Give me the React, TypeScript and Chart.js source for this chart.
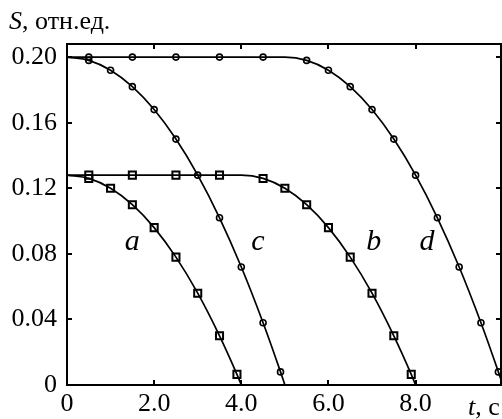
import React, { useEffect, useRef } from "react";
import { Chart, registerables } from "chart.js";

Chart.register(...registerables);

// ---- data (t in seconds, S in relative units) ----
const tA = [0, 0.5, 1.0, 1.5, 2.0, 2.5, 3.0, 3.5, 3.9, 4.0];
const sA = [0.128, 0.126, 0.120, 0.110, 0.096, 0.078, 0.056, 0.030, 0.0065, 0];
const aUnmarked = [0, 4.0];

const tB = [0, 0.5, 1.5, 2.5, 3.5, 4.0, 4.5, 5.0, 5.5, 6.0, 6.5, 7.0, 7.5, 7.9, 8.0];
const sB = [0.128, 0.128, 0.128, 0.128, 0.128, 0.128, 0.126, 0.120, 0.110, 0.096, 0.078, 0.056, 0.030, 0.0065, 0];
const bUnmarked = [0, 4.0, 8.0];

const tC = [0, 0.5, 1.0, 1.5, 2.0, 2.5, 3.0, 3.5, 4.0, 4.5, 4.9, 5.0];
const sC = [0.2, 0.198, 0.192, 0.182, 0.168, 0.150, 0.128, 0.102, 0.072, 0.038, 0.008, 0];
const cUnmarked = [0, 5.0];

const tD = [0, 0.5, 1.5, 2.5, 3.5, 4.5, 5.0, 5.5, 6.0, 6.5, 7.0, 7.5, 8.0, 8.5, 9.0, 9.5, 9.9, 10.0];
const sD = [0.2, 0.2, 0.2, 0.2, 0.2, 0.2, 0.2, 0.198, 0.192, 0.182, 0.168, 0.150, 0.128, 0.102, 0.072, 0.038, 0.008, 0];
const dUnmarked = [0, 5.0, 10.0];

const xTicks = [0, 2, 4, 6, 8];
const yTicks = [0, 0.04, 0.08, 0.12, 0.16, 0.2];

const curveNames = ["a", "c", "b", "d"];
const curveLabelT = [1.5, 4.38, 7.04, 8.26];
const curveLabelS = [0.0824, 0.0824, 0.0824, 0.0824];

const X_MAX = 9.96;
const Y_MAX = 0.208;
const SERIF = "'Liberation Serif', 'Times New Roman', serif";

function makeDataset(t: number[], s: number[], unmarked: number[], style: string, r: number) {
  return {
    data: t.map((x, i) => ({ x, y: s[i] })),
    borderColor: "#000",
    borderWidth: 1.7,
    pointStyle: style,
    pointRadius: t.map((x) => (unmarked.includes(x) ? 0 : r)),
    pointBorderColor: "#000",
    pointBorderWidth: style === "rect" ? 2 : 1.6,
    pointBackgroundColor: "rgba(0,0,0,0)",
    cubicInterpolationMode: "monotone" as const,
    fill: false,
  };
}

const framePlugin = {
  id: "frame",
  afterDatasetsDraw(chart: any) {
    const { ctx, chartArea: a, scales } = chart;
    const xs = scales.x;
    const ys = scales.y;
    ctx.save();
    ctx.strokeStyle = "#000";
    ctx.lineWidth = 2;
    ctx.strokeRect(a.left, a.top, a.right - a.left, a.bottom - a.top);
    const tl = 5;
    ctx.beginPath();
    xTicks.forEach((v) => {
      if (v === 0) return;
      const px = Math.round(xs.getPixelForValue(v));
      ctx.moveTo(px, a.bottom);
      ctx.lineTo(px, a.bottom - tl);
      ctx.moveTo(px, a.top);
      ctx.lineTo(px, a.top + tl);
    });
    yTicks.forEach((v) => {
      if (v === 0) return;
      const py = Math.round(ys.getPixelForValue(v));
      ctx.moveTo(a.left, py);
      ctx.lineTo(a.left + tl, py);
      ctx.moveTo(a.right, py);
      ctx.lineTo(a.right - tl, py);
    });
    ctx.stroke();

    // curve labels
    ctx.fillStyle = "#000";
    ctx.font = `italic 30px ${SERIF}`;
    ctx.textAlign = "center";
    ctx.textBaseline = "alphabetic";
    curveNames.forEach((n, i) => {
      ctx.fillText(n, xs.getPixelForValue(curveLabelT[i]), ys.getPixelForValue(curveLabelS[i]));
    });

    // axis titles
    ctx.textAlign = "left";
    ctx.font = `italic 26px ${SERIF}`;
    ctx.fillText("S", 9, 29);
    const sw = ctx.measureText("S").width;
    ctx.font = `26px ${SERIF}`;
    ctx.fillText(", отн.ед.", 9 + sw, 29);

    ctx.font = `italic 26px ${SERIF}`;
    ctx.fillText("t", 468, 415);
    const tw = ctx.measureText("t").width;
    ctx.font = `26px ${SERIF}`;
    ctx.fillText(", c", 468 + tw, 415);
    ctx.restore();
  },
};

export default function App() {
  const ref = useRef<HTMLCanvasElement>(null);
  useEffect(() => {
    if (!ref.current) return;
    const chart = new Chart(ref.current, {
      type: "line",
      data: {
        datasets: [
          makeDataset(tA, sA, aUnmarked, "rect", 5),
          makeDataset(tB, sB, bUnmarked, "rect", 5),
          makeDataset(tC, sC, cUnmarked, "circle", 3),
          makeDataset(tD, sD, dUnmarked, "circle", 3),
        ] as any,
      },
      options: {
        animation: false,
        responsive: false,
        devicePixelRatio: 1,
        layout: { padding: { top: 44, right: 1, left: 0, bottom: 0 } },
        plugins: { legend: { display: false }, tooltip: { enabled: false } },
        scales: {
          x: {
            type: "linear",
            min: 0,
            max: X_MAX,
            grid: { display: false, drawTicks: false },
            border: { display: false },
            afterBuildTicks: (s: any) => {
              s.ticks = xTicks.map((value) => ({ value }));
            },
            afterFit: (s: any) => {
              s.height = 34;
            },
            ticks: {
              color: "#000",
              font: { family: SERIF, size: 26 },
              padding: 4,
              maxRotation: 0,
              autoSkip: false,
              callback: (v: any) => (Number(v) === 0 ? "0" : Number(v).toFixed(1)),
            },
          },
          y: {
            type: "linear",
            min: 0,
            max: Y_MAX,
            grid: { display: false, drawTicks: false },
            border: { display: false },
            afterBuildTicks: (s: any) => {
              s.ticks = yTicks.map((value) => ({ value }));
            },
            afterFit: (s: any) => {
              s.width = 67;
            },
            ticks: {
              color: "#000",
              font: { family: SERIF, size: 26 },
              padding: 10,
              autoSkip: false,
              callback: (v: any) => (Number(v) === 0 ? "0" : Number(v).toFixed(2)),
            },
          },
        },
      },
      plugins: [framePlugin],
    });
    return () => chart.destroy();
  }, []);
  return (
    <div style={{ position: "fixed", left: 0, top: 0, width: 502, height: 419, background: "#fff" }}>
      <canvas ref={ref} width={502} height={419} />
    </div>
  );
}
